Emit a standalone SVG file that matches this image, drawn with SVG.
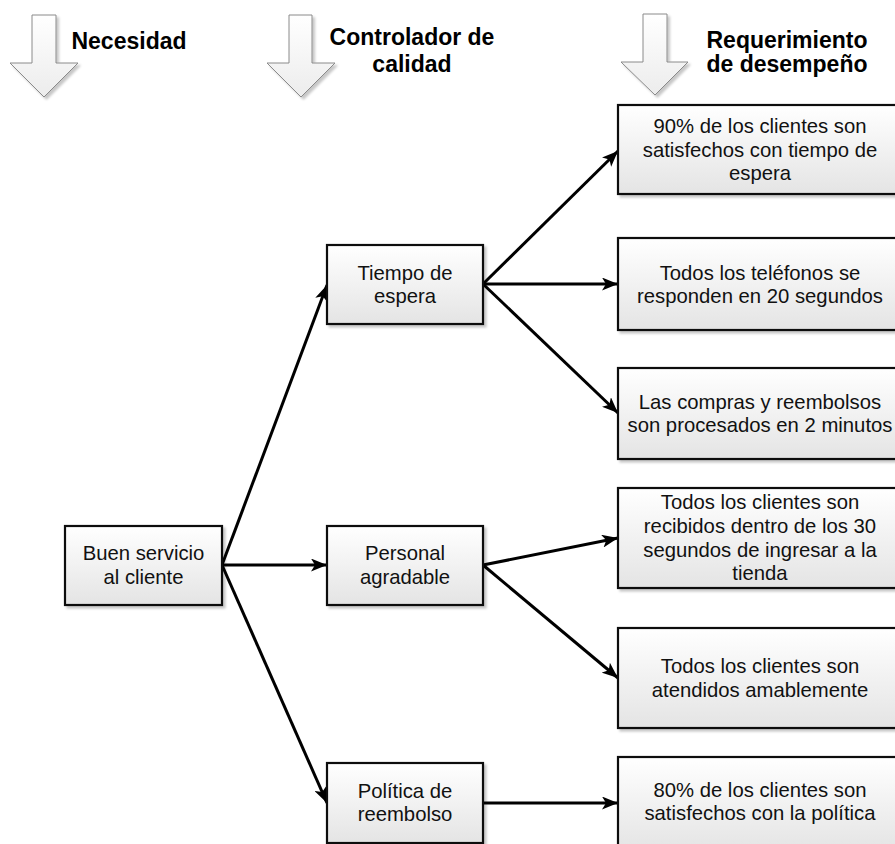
<svg xmlns="http://www.w3.org/2000/svg" width="895" height="844" viewBox="0 0 895 844">
  <defs>
    <linearGradient id="boxFill" x1="0" y1="0" x2="0" y2="1">
      <stop offset="0" stop-color="#ffffff"/>
      <stop offset="1" stop-color="#e4e4e4"/>
    </linearGradient>
    <linearGradient id="blockFill" x1="0" y1="0" x2="0" y2="1">
      <stop offset="0" stop-color="#ffffff"/>
      <stop offset="1" stop-color="#ececec"/>
    </linearGradient>
    <filter id="shadow" x="-10%" y="-10%" width="130%" height="130%">
      <feDropShadow dx="2.5" dy="2.5" stdDeviation="1.2" flood-color="#000" flood-opacity="0.22"/>
    </filter>
    <marker id="head" viewBox="0 0 16 13" refX="16" refY="6.5" markerWidth="16" markerHeight="13" markerUnits="userSpaceOnUse" orient="auto">
      <path d="M0,0 L16,6.5 L0,13 L4,6.5 Z" fill="#000"/>
    </marker>
  </defs>
  <style>
    .box { fill: url(#boxFill); stroke: #111; stroke-width: 2.2; filter: url(#shadow); }
    .block { fill: url(#blockFill); stroke: #8a8a8a; stroke-width: 1; filter: url(#shadow); }
    .lbl { font-family: "Liberation Sans", Arial, sans-serif; font-size: 20.3px; fill: #111; text-anchor: middle; }
    .hdr { font-family: "Liberation Sans", Arial, sans-serif; font-size: 23px; font-weight: bold; fill: #000; text-anchor: middle; }
    .edge { stroke: #000; stroke-width: 3; fill: none; marker-end: url(#head); }
  </style>
  <rect width="895" height="844" fill="#fff"/>

  <!-- column headers with block arrows -->
  <g id="hdr-necesidad">
    <polygon class="block" points="32,15 56,15 56,63 78,63 44,97 10,63 32,63"/>
    <text class="hdr" x="129" y="49">Necesidad</text>
  </g>
  <g id="hdr-controlador">
    <polygon class="block" points="289,15 312,15 312,63 335,63 301,97 267,63 289,63"/>
    <text class="hdr" x="412" y="45">Controlador de</text>
    <text class="hdr" x="412" y="72">calidad</text>
  </g>
  <g id="hdr-requerimiento">
    <polygon class="block" points="643,14 667,14 667,62 688,62 655,95 621,62 643,62"/>
    <text class="hdr" x="787" y="48">Requerimiento</text>
    <text class="hdr" x="787" y="72">de desempeño</text>
  </g>

  <!-- connectors -->
  <g id="connectors">
    <line class="edge" x1="222" y1="565" x2="327" y2="285"/>
    <line class="edge" x1="222" y1="565" x2="327" y2="565"/>
    <line class="edge" x1="222" y1="565" x2="327" y2="803"/>
    <line class="edge" x1="483" y1="284" x2="618" y2="151"/>
    <line class="edge" x1="483" y1="284" x2="618" y2="284"/>
    <line class="edge" x1="483" y1="284" x2="618" y2="413"/>
    <line class="edge" x1="483" y1="565" x2="618" y2="538"/>
    <line class="edge" x1="483" y1="565" x2="618" y2="678"/>
    <line class="edge" x1="483" y1="803" x2="618" y2="803"/>
  </g>

  <!-- need -->
  <g id="n-buen-servicio">
    <rect class="box" x="65" y="526" width="157" height="79"/>
    <text class="lbl" x="143.5" y="560">Buen servicio</text>
    <text class="lbl" x="143.5" y="584">al cliente</text>
  </g>

  <!-- quality drivers -->
  <g id="n-tiempo-espera">
    <rect class="box" x="327" y="245" width="156" height="79"/>
    <text class="lbl" x="405" y="280">Tiempo de</text>
    <text class="lbl" x="405" y="303">espera</text>
  </g>
  <g id="n-personal">
    <rect class="box" x="327" y="526" width="156" height="79"/>
    <text class="lbl" x="405" y="560">Personal</text>
    <text class="lbl" x="405" y="584">agradable</text>
  </g>
  <g id="n-politica">
    <rect class="box" x="327" y="763" width="156" height="80"/>
    <text class="lbl" x="405" y="798">Política de</text>
    <text class="lbl" x="405" y="821">reembolso</text>
  </g>

  <!-- performance requirements -->
  <g id="n-req-1">
    <rect class="box" x="618" y="105" width="284" height="89"/>
    <text class="lbl" x="760" y="133">90% de los clientes son</text>
    <text class="lbl" x="760" y="157">satisfechos con tiempo de</text>
    <text class="lbl" x="760" y="180">espera</text>
  </g>
  <g id="n-req-2">
    <rect class="box" x="618" y="238" width="284" height="92"/>
    <text class="lbl" x="760" y="280">Todos los teléfonos se</text>
    <text class="lbl" x="760" y="303">responden en 20 segundos</text>
  </g>
  <g id="n-req-3">
    <rect class="box" x="618" y="368" width="284" height="91"/>
    <text class="lbl" x="760" y="409">Las compras y reembolsos</text>
    <text class="lbl" x="760" y="432">son procesados en 2 minutos</text>
  </g>
  <g id="n-req-4">
    <rect class="box" x="618" y="488" width="284" height="100"/>
    <text class="lbl" x="760" y="509">Todos los clientes son</text>
    <text class="lbl" x="760" y="533">recibidos dentro de los 30</text>
    <text class="lbl" x="760" y="557">segundos de ingresar a la</text>
    <text class="lbl" x="760" y="580">tienda</text>
  </g>
  <g id="n-req-5">
    <rect class="box" x="618" y="628" width="284" height="100"/>
    <text class="lbl" x="760" y="673">Todos los clientes son</text>
    <text class="lbl" x="760" y="697">atendidos amablemente</text>
  </g>
  <g id="n-req-6">
    <rect class="box" x="618" y="757" width="284" height="95"/>
    <text class="lbl" x="760" y="797">80% de los clientes son</text>
    <text class="lbl" x="760" y="820">satisfechos con la política</text>
  </g>
</svg>
